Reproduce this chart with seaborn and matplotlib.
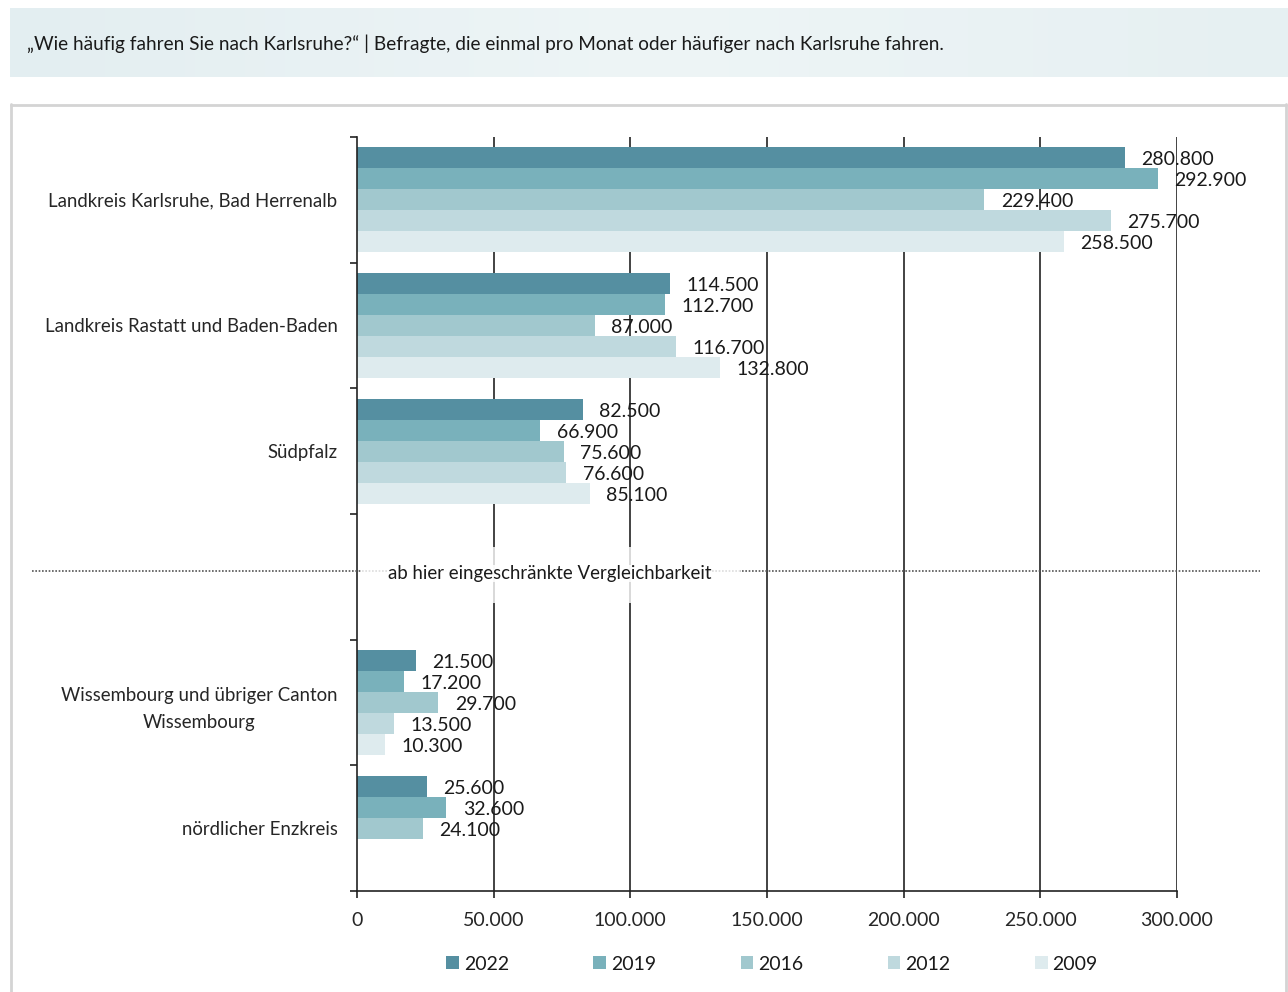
import numpy as np
import pandas as pd
import matplotlib
matplotlib.use("Agg")
import matplotlib.pyplot as plt
from matplotlib.patches import Patch, Rectangle
from matplotlib.lines import Line2D
from matplotlib.colors import LinearSegmentedColormap
import seaborn as sns

# ---- data ----
categories = ["Landkreis Karlsruhe, Bad Herrenalb",
              "Landkreis Rastatt und Baden-Baden",
              "Südpfalz",
              "",
              "Wissembourg und übriger Canton\nWissembourg",
              "nördlicher Enzkreis"]
years = ["2022", "2019", "2016", "2012", "2009"]
v2022 = [280800, 114500, 82500, np.nan, 21500, 25600]
v2019 = [292900, 112700, 66900, np.nan, 17200, 32600]
v2016 = [229400, 87000, 75600, np.nan, 29700, 24100]
v2012 = [275700, 116700, 76600, np.nan, 13500, np.nan]
v2009 = [258500, 132800, 85100, np.nan, 10300, np.nan]
xticks = [0, 50000, 100000, 150000, 200000, 250000, 300000]
title = "„Wie häufig fahren Sie nach Karlsruhe?“ | Befragte, die einmal pro Monat oder häufiger nach Karlsruhe fahren."
divider_text = "ab hier eingeschränkte Vergleichbarkeit"

colors = ["#558fa1", "#79b1bb", "#a1c8ce", "#bfd9de", "#deebee"]

series = dict(zip(years, [v2022, v2019, v2016, v2012, v2009]))
rows = []
for y in years:
    for c, v in zip(categories, series[y]):
        rows.append({"cat": c, "year": y, "val": v})
df = pd.DataFrame(rows)

sns.set_theme(style="white")
FONT = ["Lato", "DejaVu Sans"]
plt.rcParams["font.family"] = FONT
plt.rcParams["text.color"] = "#1a1a1a"

W, H = 1288, 992
fig = plt.figure(figsize=(W / 100, H / 100), dpi=100)

def fx(px):
    return px / W

def fy(py):
    return 1 - py / H

# header band with gradient
hax = fig.add_axes([fx(10), fy(77), fx(1288 - 10), (77 - 8) / H])
grad = np.linspace(0, 1, 256)
cm = LinearSegmentedColormap.from_list("g", ["#e3eef1", "#eef5f6", "#e6f0f2"])
hax.imshow(grad[None, :], aspect="auto", cmap=cm, extent=[0, 1, 0, 1])
hax.set_axis_off()
fig.text(fx(27), fy(44), title, fontsize=13.7, ha="left", va="center", color="#1a1a1a")

# outer box border
fig.add_artist(Line2D([fx(11), fx(11)], [fy(104), 0], color="#d4d4d4", lw=2))
fig.add_artist(Line2D([fx(11), fx(1286)], [fy(105), fy(105)], color="#d4d4d4", lw=2))
fig.add_artist(Line2D([fx(1286), fx(1286)], [fy(104), 0], color="#d4d4d4", lw=2))

ax = fig.add_axes([fx(357), fy(891), fx(1177 - 357), (891 - 137) / H])
sns.barplot(data=df, y="cat", x="val", hue="year", order=categories,
            hue_order=years, palette=colors, orient="h", width=0.835,
            saturation=1, linewidth=0, ax=ax, legend=False, errorbar=None)

ax.set_xlim(0, 300000)
ax.set_ylim(5.5, -0.5)
ax.set_xlabel("")
ax.set_ylabel("")
ax.set_xticks(xticks)
ax.set_xticklabels([f"{t:,}".replace(",", ".") for t in xticks], fontsize=14)
ax.set_yticks(range(len(categories)))
ax.set_yticklabels(categories, fontsize=13.4)
for lab in ax.get_yticklabels():
    lab.set_multialignment("center")
    lab.set_linespacing(1.7)
ax.set_yticks(np.arange(-0.5, len(categories), 1.0), minor=True)
ax.tick_params(axis="y", which="major", length=0, pad=14)
ax.tick_params(axis="y", which="minor", length=5, width=1.2, color="#222222", direction="out", left=True)
ax.tick_params(axis="x", which="major", length=5, width=1.2, color="#222222", direction="out", bottom=True, pad=10)
ax.grid(False)
for x in xticks[1:]:
    ax.axvline(x, color="#222222", lw=1.2, zorder=0.5)
for s in ["top", "right"]:
    ax.spines[s].set_visible(False)
for s in ["left", "bottom"]:
    ax.spines[s].set_color("#222222")
    ax.spines[s].set_linewidth(1.2)

# value labels (bar width is the value)
for cont in ax.containers:
    for rect in cont:
        v = rect.get_width()
        if not np.isfinite(v) or v <= 0:
            continue
        ax.annotate(f"{int(round(v)):,}".replace(",", "."),
                    (v, rect.get_y() + rect.get_height() / 2),
                    xytext=(12, -1.5), textcoords="offset points",
                    ha="left", va="center", fontsize=14,
                    annotation_clip=False)

# divider line and text
fig.add_artist(Line2D([fx(32), fx(1260)], [fy(571), fy(571)], color="#555555",
                      lw=1.2, linestyle=(0, (1, 1))))
fig.add_artist(Rectangle((fx(362), fy(603)), fx(740 - 362), (603 - 547) / H,
                         facecolor="white", alpha=0.8, edgecolor="none", zorder=4))
fig.text(fx(550), fy(573), divider_text, fontsize=13.4, ha="center", va="center",
         bbox=dict(boxstyle="square,pad=0", facecolor="white", alpha=0.85,
                   edgecolor="none"), zorder=5)

handles = [Patch(facecolor=c, edgecolor="none", label=y) for c, y in zip(colors, years)]
fig.legend(handles=handles, loc="center", bbox_to_anchor=(fx(772), fy(964)), ncol=5,
           frameon=False, fontsize=14, handlelength=0.65, handleheight=0.65,
           handletextpad=0.25, columnspacing=4.35)

fig.savefig("out.png", dpi=100)
